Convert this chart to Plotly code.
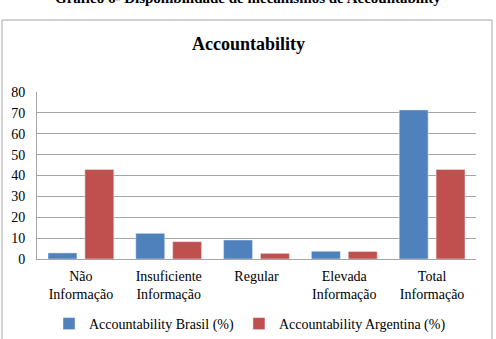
import plotly.graph_objects as go

categories = ["Não<br>Informação", "Insuficiente<br>Informação", "Regular", "Elevada<br>Informação", "Total<br>Informação"]
brasil = [2.9, 12.3, 9.1, 3.7, 71.4]
argentina = [42.9, 8.3, 2.7, 3.6, 42.9]
series_names = ["Accountability Brasil (%)", "Accountability Argentina (%)"]
y_ticks = [0, 10, 20, 30, 40, 50, 60, 70, 80]

FONT = "Liberation Serif, Times New Roman, serif"
W, H = 496, 339
L, R, T, B = 37, 20, 92, 80
pw = W - L - R
ph = H - T - B

def px_x(x):
    return (x - L) / pw

def px_y(y):
    return (H - B - y) / ph

fig = go.Figure()
fig.add_trace(go.Bar(x=categories, y=brasil, name=series_names[0], marker_color="#4F81BD"))
fig.add_trace(go.Bar(x=categories, y=argentina, name=series_names[1], marker_color="#C0504D"))

fig.update_layout(
    width=W, height=H,
    margin=dict(l=L, r=R, t=T, b=B, autoexpand=False),
    paper_bgcolor="white", plot_bgcolor="white",
    font=dict(family=FONT, size=14, color="#000000"),
    barmode="group", bargap=0.16, bargroupgap=0.216,
    showlegend=True,
    legend=dict(orientation="h", x=px_x(250), xanchor="center", y=px_y(324), yanchor="middle",
                font=dict(family=FONT, size=14), itemwidth=30, traceorder="normal"),
    xaxis=dict(showline=True, linecolor="#a6a6a6", linewidth=1, ticks="", tickfont=dict(size=14),
               ticklabelstandoff=4),
    yaxis=dict(range=[0, 80], tickvals=y_ticks, showgrid=True, gridcolor="#a6a6a6", gridwidth=1,
               showline=True, linecolor="#a6a6a6", linewidth=1, ticks="", ticklabelstandoff=8,
               zeroline=False, tickfont=dict(size=14)),
    shapes=[dict(type="rect", xref="paper", yref="paper",
                 x0=px_x(2), x1=px_x(492), y0=px_y(345), y1=px_y(20),
                 line=dict(color="#a6a6a6", width=1), fillcolor="rgba(0,0,0,0)", layer="below")],
    annotations=[
        dict(text="<b>Accountability</b>", xref="paper", yref="paper", x=px_x(248), y=px_y(44),
             xanchor="center", yanchor="middle", showarrow=False, font=dict(family=FONT, size=18)),
        dict(text="<b>Gráfico 6- Disponibilidade de mecanismos de Accountability</b>", xref="paper", yref="paper",
             x=px_x(248), y=px_y(-2), xanchor="center", yanchor="middle", showarrow=False,
             font=dict(family=FONT, size=15)),
    ],
)

fig.write_html("out.html")
